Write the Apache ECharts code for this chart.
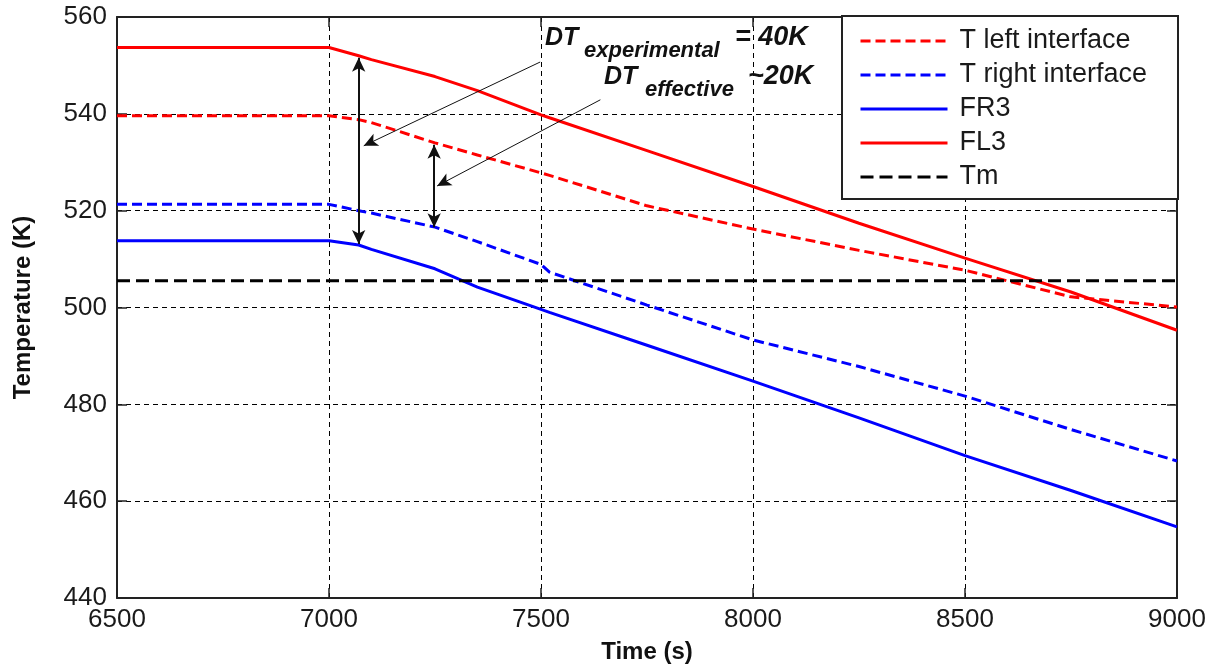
<!DOCTYPE html>
<html>
<head>
<meta charset="utf-8">
<script src="https://cdn.jsdelivr.net/npm/echarts@6/dist/echarts.min.js"></script>
<style>
html, body { margin: 0; padding: 0; background: #fff; }
#chart { width: 1219px; height: 669px; }
</style>
</head>
<body>
<div id="chart"></div>
<script>
// values (time in s, temperature in K)
var times = [6500, 7000, 7070, 7100, 7250, 7350, 7500, 7520, 7750, 8000, 8250, 8500, 8750, 9000];
var tLeftInterface = [539.6, 539.6, 538.8, 538.2, 534.0, 531.5, 527.8, 527.3, 521.0, 516.2, 511.8, 507.7, 502.2, 500.1];
var tRightInterface = [521.3, 521.3, 520.0, 519.5, 516.6, 513.6, 508.9, 507.3, 500.5, 493.3, 487.8, 481.7, 474.8, 468.3];
var fr3 = [513.8, 513.8, 512.9, 512.0, 508.0, 504.2, 499.6, 499.0, 492.2, 484.8, 477.2, 469.4, 462.2, 454.7];
var fl3 = [553.7, 553.7, 552.0, 551.2, 547.7, 544.8, 539.8, 539.2, 532.4, 525.0, 517.4, 510.2, 503.2, 495.3];
var tmTimes = [6500, 9000];
var tmValues = [505.5, 505.5];

// annotation arrows, in data coordinates
var arrowExperimental = [[7070, 551.6], [7070, 513.1]];
var arrowEffective = [[7248, 533.6], [7248, 516.6]];
var pointerExperimental = [[7498, 550.7], [7082, 533.4]];
var pointerEffective = [[7640, 542.9], [7255, 525.1]];

var FONT = '"Liberation Sans", Arial, sans-serif';

function pairs(xs, ys) {
    return xs.map(function (x, i) { return [x, ys[i]]; });
}

function lineSeries(name, data, color, type) {
    return {
        name: name,
        type: 'line',
        data: data,
        symbol: 'none',
        smooth: false,
        silent: true,
        lineStyle: { color: color, width: 3, type: type },
        itemStyle: { color: color }
    };
}

function arrowLine(pts, width, both) {
    return [
        { coord: pts[0], symbol: both ? 'arrow' : 'none', symbolSize: [10, 14], lineStyle: { width: width } },
        { coord: pts[1], symbol: 'arrow', symbolSize: [10, 14], lineStyle: { width: width } }
    ];
}

var chart = echarts.init(document.getElementById('chart'), null, { renderer: 'canvas' });

var annotations = {
    name: 'arrows',
    type: 'line',
    data: [],
    silent: true,
    markLine: {
        silent: true,
        animation: false,
        label: { show: false },
        emphasis: { disabled: true },
        lineStyle: { color: '#111', type: 'solid' },
        data: [
            arrowLine(arrowExperimental, 2, true),
            arrowLine(arrowEffective, 2, true),
            arrowLine(pointerExperimental, 1, false),
            arrowLine(pointerEffective, 1, false)
        ]
    }
};

var gridLine = { show: true, lineStyle: { color: '#000', width: 1, type: [5, 4] } };
var frameLine = { show: true, onZero: false, lineStyle: { color: '#222', width: 2 } };
var tickIn = { show: true, inside: true, length: 10, lineStyle: { color: '#222', width: 1.5 } };

function plain(v) { return String(v); }

var option = {
    animation: false,
    backgroundColor: '#fff',
    grid: { left: 117, right: 42, top: 17, bottom: 66, containLabel: false },
    xAxis: [{
        type: 'value',
        min: 6500, max: 9000, interval: 500,
        position: 'bottom',
        name: 'Time (s)',
        nameLocation: 'middle',
        nameGap: 42,
        nameTextStyle: { fontFamily: FONT, fontWeight: 'bold', fontSize: 24, color: '#111' },
        axisLine: frameLine,
        axisTick: tickIn,
        splitLine: gridLine,
        axisLabel: { fontFamily: FONT, fontSize: 26, color: '#1a1a1a', margin: 9, formatter: plain }
    }, {
        type: 'value',
        min: 6500, max: 9000, interval: 500,
        position: 'top',
        axisLine: frameLine,
        axisTick: tickIn,
        splitLine: { show: false },
        axisLabel: { show: false }
    }],
    yAxis: [{
        type: 'value',
        min: 440, max: 560, interval: 20,
        position: 'left',
        name: 'Temperature (K)',
        nameLocation: 'middle',
        nameGap: 82,
        nameRotate: 90,
        nameTextStyle: { fontFamily: FONT, fontWeight: 'bold', fontSize: 24, color: '#111' },
        axisLine: frameLine,
        axisTick: tickIn,
        splitLine: gridLine,
        axisLabel: { fontFamily: FONT, fontSize: 26, color: '#1a1a1a', margin: 10, formatter: plain }
    }, {
        type: 'value',
        min: 440, max: 560, interval: 20,
        position: 'right',
        axisLine: frameLine,
        axisTick: tickIn,
        splitLine: { show: false },
        axisLabel: { show: false }
    }],
    legend: {
        orient: 'vertical',
        left: 859,
        top: 26,
        padding: 0,
        itemWidth: 87,
        itemHeight: 14,
        itemGap: 4,
        z: 101,
        selectedMode: false,
        itemStyle: { opacity: 0 },
        lineStyle: { width: 3 },
        data: ['T left interface', 'T right interface', 'FR3', 'FL3', 'Tm'],
        textStyle: { fontFamily: FONT, fontSize: 27, lineHeight: 30, color: '#1a1a1a', padding: [0, 0, 0, 7] }
    },
    graphic: [
        {
            type: 'rect', z: 100,
            shape: { x: 842, y: 16, width: 336, height: 183 },
            style: { fill: '#fff', stroke: '#222', lineWidth: 2 }
        },
        { type: 'text', z: 100, x: 545, y: 38, style: { text: 'DT', font: 'italic bold 25px ' + FONT, fill: '#111', verticalAlign: 'middle' } },
        { type: 'text', z: 100, x: 584, y: 51, style: { text: 'experimental', font: 'italic bold 22px ' + FONT, fill: '#111', verticalAlign: 'middle' } },
        { type: 'text', z: 100, x: 735, y: 38, style: { text: '= 40K', font: 'italic bold 27px ' + FONT, fill: '#111', verticalAlign: 'middle' } },
        { type: 'text', z: 100, x: 604, y: 77, style: { text: 'DT', font: 'italic bold 25px ' + FONT, fill: '#111', verticalAlign: 'middle' } },
        { type: 'text', z: 100, x: 645, y: 90, style: { text: 'effective', font: 'italic bold 22px ' + FONT, fill: '#111', verticalAlign: 'middle' } },
        { type: 'text', z: 100, x: 748, y: 77, style: { text: '~20K', font: 'italic bold 27px ' + FONT, fill: '#111', verticalAlign: 'middle' } }
    ],
    series: [
        lineSeries('T left interface', pairs(times, tLeftInterface), '#ff0000', [10, 5]),
        lineSeries('T right interface', pairs(times, tRightInterface), '#0000ff', [10, 5]),
        lineSeries('FR3', pairs(times, fr3), '#0000ff', 'solid'),
        lineSeries('FL3', pairs(times, fl3), '#ff0000', 'solid'),
        lineSeries('Tm', pairs(tmTimes, tmValues), '#000000', [13, 6]),
        annotations
    ]
};

chart.setOption(option);
</script>
</body>
</html>
